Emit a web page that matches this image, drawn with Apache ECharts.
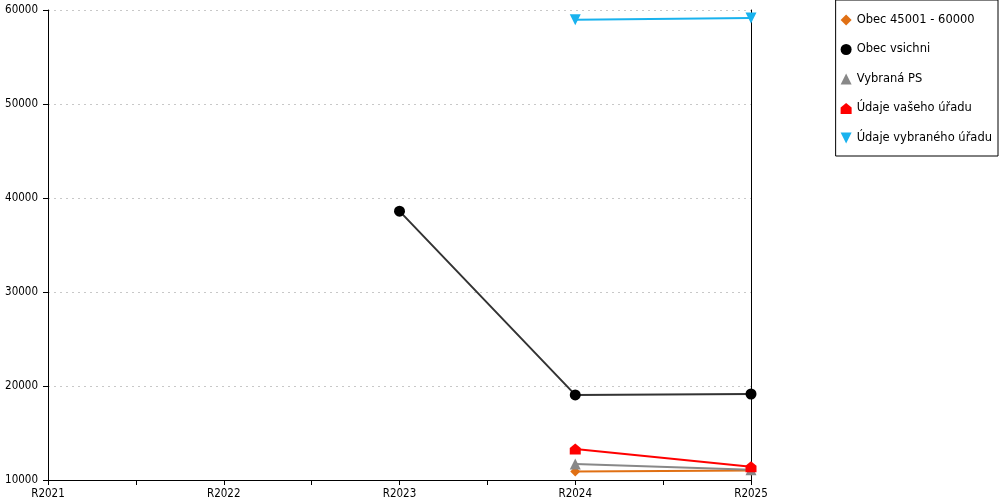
<!DOCTYPE html>
<html lang="cs">
<head>
    <meta charset="UTF-8" />
    <title>Chart</title>
    <script src="https://cdn.jsdelivr.net/npm/echarts@6/dist/echarts.min.js"></script>
    <style>
        body { margin: 0; background: #fff; }
        #chart { width: 1000px; height: 500px; }
    </style>
</head>
<body>
    <div id="chart"></div>
    <script>
        // roky na ose x
        var years = [2021, 2022, 2023, 2024, 2025];
        var yTicks = [10000, 20000, 30000, 40000, 50000, 60000];

        var seriesNames = ["Obec 45001 - 60000", "Obec vsichni", "Vybraná PS", "Údaje vašeho úřadu", "Údaje vybraného úřadu"];
        var obec45 = [null, null, null, 10900, 11000];
        var obecVsichni = [null, null, 38600, 19050, 19150];
        var vybranaPS = [null, null, null, 11700, 11100];
        var vasUrad = [null, null, null, 13300, 11400];
        var vybranyUrad = [null, null, null, 58950, 59150];

        var colors = ["#e07014", "#333333", "#888888", "#ff0000", "#19b2ee"];
        var symbolColors = ["#e07014", "#000000", "#888888", "#ff0000", "#19b2ee"];
        var symbols = [
            "diamond",
            "circle",
            "triangle",
            "path://M5,0 L10,4 L10,10 L0,10 L0,4 Z",
            "path://M0,0 L10,0 L5,10 Z"
        ];
        var sizes = [10, 11, 11, 11, 11];
        var values = [obec45, obecVsichni, vybranaPS, vasUrad, vybranyUrad];

        function toPairs(arr) {
            var out = [];
            for (var i = 0; i < arr.length; i++) {
                if (arr[i] !== null) out.push([years[i], arr[i]]);
            }
            return out;
        }

        var series = [];
        for (var i = 0; i < seriesNames.length; i++) {
            series.push({
                name: seriesNames[i],
                type: "line",
                data: toPairs(values[i]),
                symbol: symbols[i],
                symbolSize: sizes[i],
                lineStyle: { color: colors[i], width: 2 },
                itemStyle: { color: symbolColors[i] },
                yAxisIndex: 0
            });
        }

        var font = "DejaVu Sans";
        var axisFont = "DejaVu Sans Condensed";
        var mChart = echarts.init(document.getElementById("chart"));
        var option = {
            animation: false,
            textStyle: { fontFamily: font },
            grid: { left: 48, right: 249, top: 10, bottom: 20 },
            legend: {
                orient: "vertical",
                right: 2,
                top: 0,
                borderColor: "#000",
                borderWidth: 1,
                padding: [14, 6, 12, 5],
                itemGap: 17.5,
                itemWidth: 11,
                itemHeight: 11,
                itemTextGap: 6,
                textStyle: { fontFamily: font, fontSize: 11.5, color: "#000" },
                data: seriesNames.map(function (n, i) {
                    return { name: n, icon: symbols[i], itemStyle: { color: symbolColors[i] } };
                })
            },
            xAxis: {
                type: "value",
                min: years[0],
                max: years[years.length - 1],
                interval: 0.5,
                axisLine: { lineStyle: { color: "#000", width: 1 } },
                axisTick: { show: true, length: 5, lineStyle: { color: "#000" } },
                splitLine: { show: false },
                axisLabel: {
                    color: "#000",
                    fontSize: 11.5,
                    fontFamily: axisFont,
                    margin: 8,
                    formatter: function (v) {
                        return Number.isInteger(v) ? "R" + v : "";
                    }
                }
            },
            yAxis: [
                {
                    type: "value",
                    min: yTicks[0],
                    max: yTicks[yTicks.length - 1],
                    interval: 10000,
                    axisLine: { show: true, lineStyle: { color: "#000", width: 1 } },
                    axisTick: { show: true, length: 5, lineStyle: { color: "#000" } },
                    splitLine: { show: true, lineStyle: { color: "#c8c8c8", type: [2, 4] } },
                    axisLabel: {
                        color: "#000",
                        fontSize: 11.5,
                        fontFamily: axisFont,
                        margin: 10,
                        formatter: function (v) { return String(v); }
                    }
                },
                {
                    type: "value",
                    position: "right",
                    min: yTicks[0],
                    max: yTicks[yTicks.length - 1],
                    interval: 10000,
                    axisLine: { show: true, lineStyle: { color: "#000", width: 1 } },
                    axisTick: { show: false },
                    splitLine: { show: false },
                    axisLabel: { show: false }
                }
            ],
            series: series
        };
        mChart.setOption(option);
    </script>
</body>
</html>
